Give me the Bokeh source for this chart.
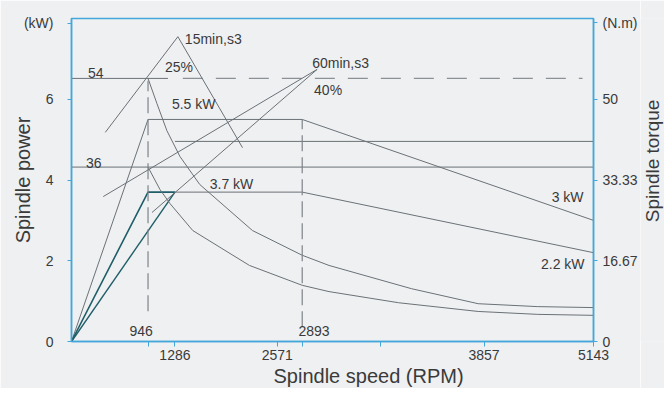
import math
from bokeh.plotting import figure
from bokeh.layouts import row
from bokeh.models import Range1d, LinearAxis, FixedTicker, Label, Title
from bokeh.core.properties import value
from bokeh.embed import file_html
from bokeh.resources import INLINE

# ---------------- data ----------------
# speed axis (schematic RPM axis as drawn)
speed_ticks = [1019, 2028, 4065, 5143]
speed_tick_labels = ["1286", "2571", "3857", "5143"]
speed_minor_ticks = [754, 2273, 3047]
power_ticks = [0, 2, 4, 6, 7.88]
power_tick_labels = ["0", "2", "4", "6", "(kW)"]
torque_ticks = [0, 16.67, 33.33, 50, 65.84]
torque_tick_labels = ["0", "16.67", "33.33", "50", "(N.m)"]

# power curves (kW)
s3_speed = [0, 754, 2273, 5143]
s3_power = [0, 5.5, 5.5, 3.0]
s1_speed = [1019, 2273, 5143]
s1_power = [3.7, 3.7, 2.2]
s1_rise_a_speed = [0, 754, 1019]
s1_rise_a_power = [0, 3.7, 3.7]
s1_rise_b_speed = [0, 1019]
s1_rise_b_power = [0, 3.7]

# torque curves (N.m)
tq_hi_speed = [754, 842, 940, 1068, 1264, 1783, 2273, 2537, 3350, 4007, 4594, 5143]
tq_hi = [54.3, 49.1, 43.5, 38.2, 32.4, 22.9, 17.8, 15.7, 10.9, 7.8, 7.2, 7.0]
tq_lo_speed = [754, 871, 969, 1195, 1753, 2273, 2537, 3223, 4007, 4594, 5143]
tq_lo = [36.0, 31.4, 28.5, 22.9, 15.7, 11.6, 10.3, 8.0, 6.2, 5.6, 5.4]

# horizontal torque levels (N.m)
tq54_solid_speed = [0, 950]
tq54_dash_speed = [1097, 5035]
tq54_level = 54.3
tq41_speed = [1019, 5143]
tq41_level = 41.3
tq36_speed = [0, 5143]
tq36_level = 36.0

# base-speed markers (kW)
base1_speed = 754
base1_power = [0.75, 6.46]
base2_speed = 2273
base2_power = [0.35, 5.5]

# leader lines (kW)
lead15_speed = [333, 1048, 1685]
lead15_power = [5.18, 7.55, 4.80]
lead60a_speed = [313, 2420]
lead60a_power = [3.59, 6.74]
lead60b_speed = [793, 2420]
lead60b_power = [3.195, 6.74]

# text notes
note_text = ["54", "36", "15min,s3", "25%", "60min,s3", "40%", "5.5 kW", "3.7 kW", "3 kW", "2.2 kW", "946", "2893"]
note_speed = [240, 220, 1117, 921, 2371, 2390, 989, 1362, 5045, 5055, 686, 2390]
note_power = [6.66, 4.41, 7.48, 6.81, 6.91, 6.24, 5.88, 3.90, 3.57, 1.92, 0.25, 0.27]
note_align = ["center", "center", "left", "left", "left", "left", "left", "left", "right", "right", "center", "center"]

x_title = "Spindle speed (RPM)"
y_title = "Spindle power"
y2_title = "Spindle torque"
y2_title_pos = 4.21

# ---------------- styles ----------------
BG = "#eff0f2"
BLUE = "#45a6dc"
GRAY = "#6a7176"
TEAL = "#1f5e68"
TXT = "#3a3a3a"
FONT = "Liberation Sans"

p = figure(width=640, height=388, output_backend="svg", toolbar_location=None,
           x_range=Range1d(0, 5143), y_range=Range1d(0, 8),
           min_border_left=71, min_border_right=44, min_border_top=18, min_border_bottom=47)
p.extra_y_ranges = {"torque": Range1d(0, 66.667)}
p.background_fill_color = BG
p.border_fill_color = BG
p.outline_line_color = BLUE
p.outline_line_width = 1.5
p.grid.visible = False

# axes
p.xaxis.ticker = FixedTicker(ticks=speed_ticks, minor_ticks=speed_minor_ticks)
p.xaxis.major_label_overrides = {t: l for t, l in zip(speed_ticks, speed_tick_labels)}
p.yaxis.ticker = FixedTicker(ticks=power_ticks, minor_ticks=[])
p.yaxis.major_label_overrides = {t: l for t, l in zip(power_ticks, power_tick_labels)}

ax_r = LinearAxis(y_range_name="torque", ticker=FixedTicker(ticks=torque_ticks, minor_ticks=[]))
ax_r.major_label_overrides = {t: l for t, l in zip(torque_ticks, torque_tick_labels)}
p.add_layout(ax_r, "right")

for ax in [p.xaxis[0], p.yaxis[0], ax_r]:
    ax.axis_line_color = BLUE
    ax.axis_line_width = 1.5
    ax.major_tick_line_color = BLUE
    ax.minor_tick_line_color = BLUE
    ax.major_tick_in = 0
    ax.major_tick_out = 4
    ax.minor_tick_in = 0
    ax.minor_tick_out = 5
    ax.major_label_text_font = FONT
    ax.major_label_text_font_size = "14px"
    ax.major_label_text_color = TXT
    ax.axis_label_text_font = FONT
    ax.axis_label_text_font_style = "normal"
    ax.axis_label_text_color = TXT
p.yaxis[0].major_label_standoff = 14
ax_r.major_label_standoff = 5
p.xaxis[0].major_tick_out = 5
p.xaxis[0].major_label_standoff = 3

# left title
p.yaxis[0].axis_label = y_title
p.yaxis[0].axis_label_text_font_size = "20px"
p.yaxis[0].axis_label_standoff = -13

# bottom title
p.add_layout(Title(text=x_title, align="left", offset=202, standoff=0,
                   text_font=FONT, text_font_size="20px", text_font_style="normal",
                   text_color=TXT), "below")

# power curves
p.line(s3_speed, s3_power, line_color=GRAY, line_width=1)
p.line(s1_speed, s1_power, line_color=GRAY, line_width=1)
p.line(s1_rise_a_speed, s1_rise_a_power, line_color=TEAL, line_width=1.6)
p.line(s1_rise_b_speed, s1_rise_b_power, line_color=TEAL, line_width=1.4)

# torque curves and levels
p.line(tq_hi_speed, tq_hi, y_range_name="torque", line_color=GRAY, line_width=1)
p.line(tq_lo_speed, tq_lo, y_range_name="torque", line_color=GRAY, line_width=1)
p.line(tq54_solid_speed, [tq54_level] * 2, y_range_name="torque", line_color=GRAY, line_width=1)
p.line(tq54_dash_speed, [tq54_level] * 2, y_range_name="torque", line_color="#8a9095",
       line_width=1.3, line_dash="20 13")
p.line(tq41_speed, [tq41_level] * 2, y_range_name="torque", line_color=GRAY, line_width=1)
p.line(tq36_speed, [tq36_level] * 2, y_range_name="torque", line_color=GRAY, line_width=1)

# base speed markers
p.line([base1_speed] * 2, base1_power, line_color="#7d8388", line_width=1.2, line_dash="16 6")
p.line([base2_speed] * 2, base2_power, line_color="#7d8388", line_width=1.2, line_dash="16 6")

# leader lines
p.line(lead15_speed, lead15_power, line_color=GRAY, line_width=1)
p.line(lead60a_speed, lead60a_power, line_color=GRAY, line_width=1)
p.line(lead60b_speed, lead60b_power, line_color=GRAY, line_width=1)

# notes
for t, xs, ys, al in zip(note_text, note_speed, note_power, note_align):
    p.add_layout(Label(x=xs, y=ys, text=t, text_align=al, text_baseline="middle",
                       text_font=FONT, text_font_size="14px", text_color=TXT))

# narrow strip to the right carrying the torque-axis title (reads bottom to top)
p2 = figure(width=24, height=388, output_backend="svg", toolbar_location=None,
            x_range=Range1d(0, 1), y_range=Range1d(-47 / 40.375, 8 + 18 / 40.375),
            x_axis_type=None, y_axis_type=None,
            min_border_left=0, min_border_right=0, min_border_top=0, min_border_bottom=0)
p2.background_fill_color = BG
p2.border_fill_color = BG
p2.outline_line_color = None
p2.text(x=[0.5], y=[y2_title_pos], text=[y2_title], angle=math.pi / 2,
        text_align="center", text_baseline="middle",
        text_font=value(FONT), text_font_size="19px", text_color=TXT)

layout = row(p, p2, spacing=0)
open("out.html", "w").write(file_html(layout, INLINE))
